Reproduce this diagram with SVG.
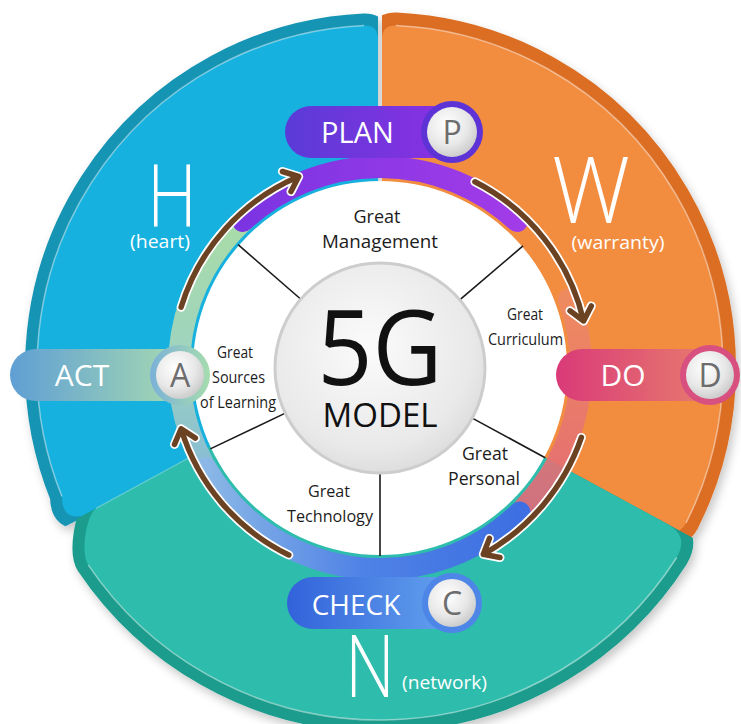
<svg xmlns="http://www.w3.org/2000/svg" width="741" height="724" viewBox="0 0 741 724">
<defs>
<style>
.rim{stroke-width:24;stroke-linejoin:round}
.hl{fill:none;stroke:#fff;stroke-opacity:.45;stroke-width:1.5}
.trk{fill:none;stroke-width:22;stroke-linecap:round}
.div{stroke:#1a1a1a;stroke-width:1.6}
.lbl{font-family:"Open Sans","Liberation Sans",sans-serif;fill:#1c1c1c;text-anchor:middle}
.pt{font-family:"Open Sans","Liberation Sans",sans-serif;fill:#fff;text-anchor:middle}
.lt{font-family:"Open Sans","Liberation Sans",sans-serif;fill:#6d6d6d;text-anchor:middle;font-size:32px}
.big{font-family:"Open Sans","Liberation Sans",sans-serif;fill:#fff;font-weight:300}
.aw{fill:none;stroke:#fff;stroke-width:9;stroke-linecap:round;stroke-linejoin:round}
.ab{fill:none;stroke:#6b4222;stroke-width:5.5;stroke-linecap:round;stroke-linejoin:round}
.inner{fill:url(#gInner)}
</style>
<filter id="sh" x="-10%" y="-10%" width="125%" height="125%">
<feDropShadow dx="3" dy="5" stdDeviation="5" flood-color="#000" flood-opacity="0.22"/>
</filter>
<clipPath id="clipC"><path d="M378,368 L378,-60 L-100,-60 L-100,610.1 Z"/></clipPath>
<clipPath id="clipO"><path d="M382,368 L382,-60 L850,-60 L850,634.6 Z"/></clipPath>
<clipPath id="clipT"><path d="M380,368 L1258.8,845.2 L1258.8,1100 L-514.9,1100 L-514.9,840.7 L207,448 Z"/></clipPath>
<radialGradient id="gInner" cx="0.4" cy="0.35" r="0.7">
<stop offset="0" stop-color="#ffffff"/><stop offset="0.6" stop-color="#e8e8e8"/><stop offset="1" stop-color="#c8c8c8"/>
</radialGradient>
<radialGradient id="gCore" cx="0.45" cy="0.4" r="0.65">
<stop offset="0" stop-color="#fbfbfb"/><stop offset="0.75" stop-color="#e9e9e9"/><stop offset="1" stop-color="#d9d9d9"/>
</radialGradient>
<linearGradient id="gPlan" x1="0" y1="0" x2="1" y2="0"><stop offset="0" stop-color="#5a3bd7"/><stop offset="1" stop-color="#8f2fe3"/></linearGradient>
<linearGradient id="gAct" x1="0" y1="0" x2="1" y2="0"><stop offset="0" stop-color="#5f9fd4"/><stop offset="1" stop-color="#a9dcb0"/></linearGradient>
<linearGradient id="gActR" x1="0" y1="0" x2="1" y2="0"><stop offset="0" stop-color="#7ab1d8"/><stop offset="1" stop-color="#a6dcae"/></linearGradient>
<linearGradient id="gDo" x1="0" y1="0" x2="1" y2="0"><stop offset="0" stop-color="#d93a78"/><stop offset="1" stop-color="#e9826c"/></linearGradient>
<linearGradient id="gCheck" x1="0" y1="0" x2="1" y2="0"><stop offset="0" stop-color="#3262da"/><stop offset="1" stop-color="#66a6ef"/></linearGradient>
<linearGradient id="tGreen" gradientUnits="userSpaceOnUse" x1="0" y1="470" x2="0" y2="215"><stop offset="0" stop-color="#86bcd4"/><stop offset="0.45" stop-color="#9fd3bf"/><stop offset="1" stop-color="#a9dca6"/></linearGradient>
<linearGradient id="tPurple" gradientUnits="userSpaceOnUse" x1="240" y1="0" x2="520" y2="0"><stop offset="0" stop-color="#7b34e2"/><stop offset="1" stop-color="#a23be8"/></linearGradient>
<linearGradient id="tPink" gradientUnits="userSpaceOnUse" x1="0" y1="295" x2="0" y2="510"><stop offset="0" stop-color="#ee8a62"/><stop offset="1" stop-color="#e2687a"/></linearGradient>
<linearGradient id="tBlue" gradientUnits="userSpaceOnUse" x1="520" y1="0" x2="205" y2="0"><stop offset="0" stop-color="#3e6fe2"/><stop offset="0.5" stop-color="#4f82e6"/><stop offset="1" stop-color="#8bb8e6"/></linearGradient>
</defs>

<rect width="741" height="724" fill="#ffffff"/>

<g id="sectors" filter="url(#sh)">
<g id="sector-H">
<path class="rim" fill="#1894b3" stroke="#1894b3" clip-path="url(#clipC)" d="M378,368 L378,39 Q378,25 364,25.4 A343,343 0 0 0 62,496.5 Q62,524 90,513.9 Z"/>
<path fill="#12b1de" d="M378,368 L378,39 Q378,25 364,25.4 A343,343 0 0 0 62,496.5 Q62,524 90,513.9 Z"/>
<path class="hl" d="M364,25.4 A343,343 0 0 0 62,496.5"/>
</g>
<g id="sector-W">
<path class="rim" fill="#db6e23" stroke="#db6e23" style="stroke-width:26" clip-path="url(#clipO)" d="M382,368 L382,39 Q382,25 396,25.4 A343,343 0 0 1 686.1,522.8 Q678.6,536.9 664.6,529 Z"/>
<path fill="#f28d41" d="M382,368 L382,39 Q382,25 396,25.4 A343,343 0 0 1 686.1,522.8 Q678.6,536.9 664.6,529 Z"/>
<path class="hl" d="M396,25.4 A343,343 0 0 1 686.1,522.8"/>
</g>
<g id="sector-N">
<path class="rim" fill="#1c9c8c" stroke="#1c9c8c" clip-path="url(#clipT)" d="M380,368 L667.4,524 Q689.3,536 676.7,557.5 A352,352 0 0 1 88.2,564.8 C79.8,552.4 87.2,513.2 96,508.4 L207,448 Z"/>
<path fill="#2dbcac" d="M380,368 L667.4,524 Q689.3,536 676.7,557.5 A352,352 0 0 1 88.2,564.8 C79.8,552.4 87.2,513.2 96,508.4 L207,448 Z"/>
<path class="hl" d="M676.7,557.5 A352,352 0 0 1 88.2,564.8"/>
<path fill="none" stroke="#8fdde0" stroke-opacity="0.6" stroke-width="1.2" d="M96,508.4 L207,448"/>
</g>
</g>

<g id="big-letters">
<text class="big" x="172" y="227" font-size="87" text-anchor="middle" textLength="50" lengthAdjust="spacingAndGlyphs">H</text>
<text class="big" x="160" y="248" font-size="18" text-anchor="middle" textLength="60" lengthAdjust="spacingAndGlyphs" style="font-weight:400">(heart)</text>
<text class="big" x="591" y="223" font-size="92" text-anchor="middle" textLength="78" lengthAdjust="spacingAndGlyphs">W</text>
<text class="big" x="618" y="249" font-size="18" text-anchor="middle" textLength="93" lengthAdjust="spacingAndGlyphs" style="font-weight:400">(warranty)</text>
<text class="big" x="370" y="697" font-size="87" text-anchor="middle" textLength="50" lengthAdjust="spacingAndGlyphs">N</text>
<text class="big" x="402" y="689" font-size="18" textLength="85" lengthAdjust="spacingAndGlyphs" style="font-weight:400">(network)</text>
</g>

<g id="track">
<path class="trk" stroke="url(#tGreen)" d="M202.5,462.4 A201,201 0 0 1 245.5,218.6"/>
<path class="trk" stroke="url(#tPink)" stroke-opacity="0.9" d="M568.9,299.3 A201,201 0 0 1 524.6,507.6"/>
<path class="trk" stroke="url(#tBlue)" d="M519.6,512.6 A201,201 0 0 1 205.9,468.5"/>
<path class="trk" stroke="url(#tPurple)" d="M242.9,221 A201,201 0 0 1 517.1,221"/>
</g>

<g id="disk">
<circle cx="380" cy="368" r="187" fill="#ffffff"/>
</g>

<g id="dividers">
<line class="div" x1="460.6" y1="299.2" x2="523" y2="245.9"/>
<line class="div" x1="473.2" y1="418.6" x2="545.2" y2="457.7"/>
<line class="div" x1="380" y1="474" x2="380" y2="556"/>
<line class="div" x1="284.3" y1="413.6" x2="210.3" y2="448.9"/>
<line class="div" x1="300" y1="298.5" x2="238.1" y2="244.7"/>
</g>

<g id="center">
<circle cx="380" cy="368" r="105" fill="url(#gCore)" stroke="#cdcdcd" stroke-width="3"/>
<text x="380" y="385" font-family="'Open Sans','Liberation Sans',sans-serif" font-size="105" fill="#111" text-anchor="middle" textLength="125" lengthAdjust="spacingAndGlyphs">5G</text>
<text x="380" y="427" font-family="'Open Sans','Liberation Sans',sans-serif" font-size="33" fill="#111" text-anchor="middle" textLength="115" lengthAdjust="spacingAndGlyphs">MODEL</text>
</g>

<g id="labels">
<text class="lbl" x="377" y="223" font-size="19" textLength="47" lengthAdjust="spacingAndGlyphs">Great</text>
<text class="lbl" x="380" y="248" font-size="19" textLength="116" lengthAdjust="spacingAndGlyphs">Management</text>
<text class="lbl" x="525" y="320" font-size="16" textLength="36" lengthAdjust="spacingAndGlyphs">Great</text>
<text class="lbl" x="525.5" y="345" font-size="16" textLength="75" lengthAdjust="spacingAndGlyphs">Curriculum</text>
<text class="lbl" x="235" y="358" font-size="15.5" textLength="36" lengthAdjust="spacingAndGlyphs">Great</text>
<text class="lbl" x="238.5" y="383" font-size="15.5" textLength="53" lengthAdjust="spacingAndGlyphs">Sources</text>
<text class="lbl" x="238" y="408" font-size="15.5" textLength="76" lengthAdjust="spacingAndGlyphs">of Learning</text>
<text class="lbl" x="485" y="460" font-size="18" textLength="46" lengthAdjust="spacingAndGlyphs">Great</text>
<text class="lbl" x="484" y="485" font-size="18" textLength="72" lengthAdjust="spacingAndGlyphs">Personal</text>
<text class="lbl" x="329" y="497" font-size="17" textLength="42" lengthAdjust="spacingAndGlyphs">Great</text>
<text class="lbl" x="330" y="522" font-size="17" textLength="86" lengthAdjust="spacingAndGlyphs">Technology</text>
</g>

<g id="connectors">
<path class="aw" d="M181.1,307.2 A208,208 0 0 1 298.7,176.5 M282.4,171.5 L298.7,176.5 L291,191.6"/>
<path class="ab" d="M181.1,307.2 A208,208 0 0 1 298.7,176.5 M282.4,171.5 L298.7,176.5 L291,191.6"/>
<path class="aw" d="M474.9,181.8 A209,209 0 0 1 583.6,321 M591.3,305.9 L583.6,321 L570,310.8"/>
<path class="ab" d="M474.9,181.8 A209,209 0 0 1 583.6,321 M591.3,305.9 L583.6,321 L570,310.8"/>
<path class="aw" d="M581.4,437.4 A213,213 0 0 1 483.3,554.3 M500,557.5 L483.3,554.3 L489.4,538.4"/>
<path class="ab" d="M581.4,437.4 A213,213 0 0 1 483.3,554.3 M500,557.5 L483.3,554.3 L489.4,538.4"/>
<path class="aw" d="M288.8,555 A208,208 0 0 1 181.1,428.8 M174.5,444.4 L181.1,428.8 L195.4,438.1"/>
<path class="ab" d="M288.8,555 A208,208 0 0 1 181.1,428.8 M174.5,444.4 L181.1,428.8 L195.4,438.1"/>
</g>

<g id="node-plan">
<rect x="285" y="106" width="180" height="52" rx="26" fill="url(#gPlan)"/>
<circle cx="452" cy="132" r="31" fill="#5e33d6"/>
<circle class="inner" cx="452" cy="132" r="25"/>
<text class="pt" x="357.5" y="143" font-size="29">PLAN</text>
<text class="lt" x="452" y="144">P</text>
</g>

<g id="node-act">
<rect x="10" y="349" width="180" height="52" rx="26" fill="url(#gAct)"/>
<circle cx="180" cy="375" r="30" fill="url(#gActR)"/>
<circle class="inner" cx="180" cy="375" r="24"/>
<text class="pt" x="82" y="385.5" font-size="30">ACT</text>
<text class="lt" x="180" y="386.5">A</text>
</g>

<g id="node-do">
<rect x="556" y="349" width="170" height="52" rx="26" fill="url(#gDo)"/>
<circle cx="710" cy="375" r="30" fill="#d8507f"/>
<circle class="inner" cx="710" cy="375" r="24"/>
<text class="pt" x="623" y="385.5" font-size="30">DO</text>
<text class="lt" x="710" y="386.5">D</text>
</g>

<g id="node-check">
<rect x="287" y="577" width="175" height="52" rx="26" fill="url(#gCheck)"/>
<circle cx="452" cy="603" r="30" fill="#4e86e8"/>
<circle class="inner" cx="452" cy="603" r="24"/>
<text class="pt" x="356" y="615" font-size="28">CHECK</text>
<text class="lt" x="452" y="614.5">C</text>
</g>
</svg>
